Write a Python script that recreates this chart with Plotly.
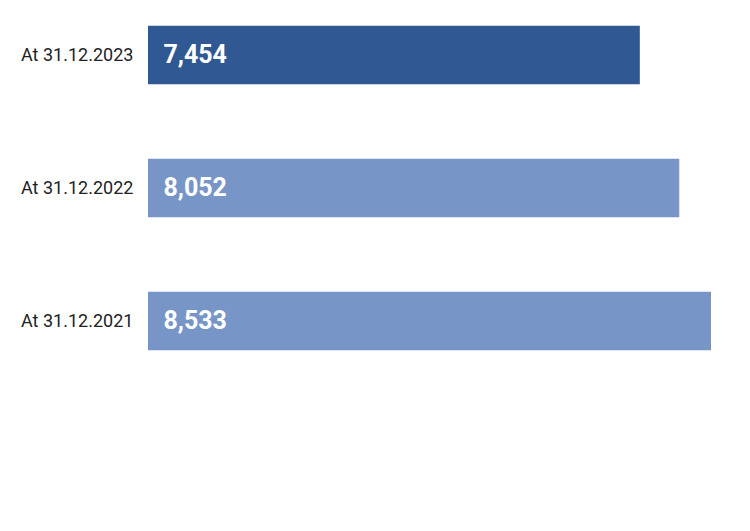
import plotly.graph_objects as go

categories = ["At 31.12.2023", "At 31.12.2022", "At 31.12.2021"]
values = [7454, 8052, 8533]
labels = ["7,454", "8,052", "8,533"]
colors = ["#305893", "#7795c6", "#7795c6"]

fig = go.Figure(go.Bar(
    y=categories, x=values, orientation="h", text=labels,
    textposition="inside", insidetextanchor="start",
    texttemplate="  <b>%{text}</b>",
    textfont=dict(color="white", size=25, family="Liberation Sans Narrow, Roboto"),
    marker=dict(color=colors, line=dict(width=0)), width=0.44,
    cliponaxis=False,
))
fig.update_layout(
    width=750, height=531, margin=dict(l=140, r=47, t=0, b=0),
    plot_bgcolor="white", paper_bgcolor="white", showlegend=False,
    xaxis=dict(range=[0, 8533], visible=False),
    yaxis=dict(range=[3.64, -0.353], ticks="outside", ticklen=10, tickcolor="rgba(0,0,0,0)",
               tickfont=dict(size=18, color="#222", family="Liberation Sans Narrow, Roboto"),
               showgrid=False, zeroline=False, showline=False),
)
fig.write_html("out.html")
